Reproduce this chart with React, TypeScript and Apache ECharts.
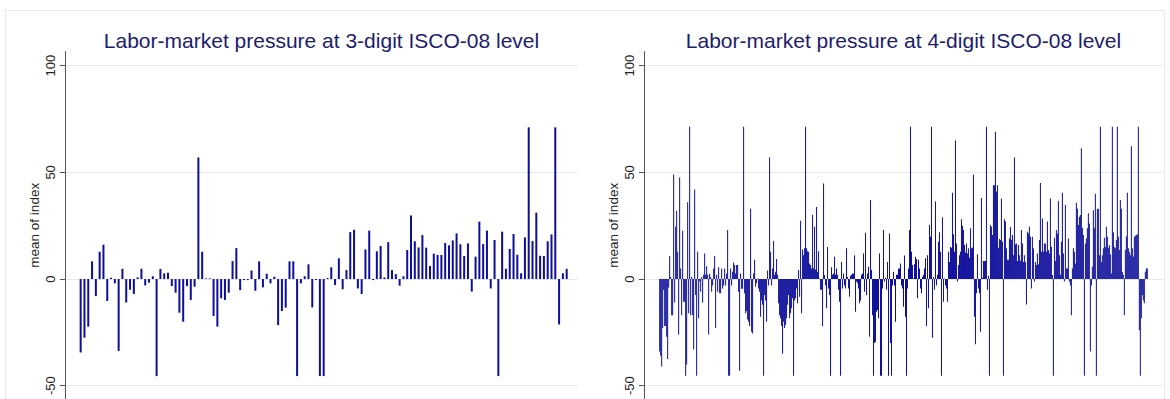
import React, { useEffect, useRef } from "react";
import * as echarts from "echarts";

// ---------- texts ----------
const TITLE_3 = "Labor-market pressure at 3-digit ISCO-08 level";
const TITLE_4 = "Labor-market pressure at 4-digit ISCO-08 level";
const Y_NAME = "mean of index";
const Y_TICKS = [-50, 0, 50, 100];

// ---------- 3-digit ISCO-08 (minor groups), mean of index ----------
const digit3A = [
  -34.4, -27.5, -22.3, 8.3, -8, 12.8, 16.1, -10.3, 0.6, -2, -33.7, 4.8, -11, -5, -7, 0.8,
  4.8, -3, -1.7, 1.3, -45.5, 4.7, 2.7, 3, -3.3, -6.4, -15.8, -20, -3.3, -9.8, -3.6, 57,
];
const digit3B = [
  12.8, 0.3, 0.3, -17.3, -22.3, -9, -9.8, -6.4, 8.4, 14.5, -5.2, -0.5, -0.5, 4, -5.5, 8.3,
  -3.9, 2.5, -2, 1.1, -21.6, -15, -13.4, 8.3, 8.3, -45.5, -2, 1.3, 6.9, -13.3, -0.5, -45.5,
  -45.5, 0.5, 5.5, -2.8, 9.7, -4.8, 4.2, 22, 23.1, -4.4, -7, 13.9, 22.7, -0.5, 13, 15.5,
  0.8, 17.3,
];
const digit3C = [
  4.2, 2.3, -3.1, 1.3, 13.6, 29.8, 17.7, 14.8, 20.6, 14.7, 6.1, 11.9, 11.3, 11.3, 16.9, 15.8,
  18.1, 21.4, 16.3, 10.8, 16.7, -5.9, 10.5, 26.9, 16.4, 22.7, -4.4, 18.3, -45.5, 22.2, 4.8,
  14.1, 21.1, 11.4, 2.7, 19.5, 71.1, 17.8, 31.1, 10.9, 10.8, 17.7, 20.9, 71.1, -21.3, 2.7, 4.8,
];

// ---------- 4-digit ISCO-08 (unit groups), mean of index ----------
const digit4A = [
  -34, -36, -41, -23, -5, -22, -22, -27, -37.5, -4,
  10.8, 1, -17, -17, 49, -11, 24.5, 32, 12.8, -26,
  47.6, 5, -17, 22.6, -10.6, -10.6, -45.3, -40, 36, -16,
  71.4, -17, 1, -17, -33, 42, -7.5, -45.3, 12.8, -18.4,
  -1, -6, 1, -11, 2, 12, 2, 6, 2, -26,
  2.5, 1, -6, -3, 5, 10.8, -23, 2, -6, 5.5,
  -6.7, -6.7, 5, -4.4, -3, 5, -3, 2.6, 23, -45.3,
  -45.3, 5, -3, 3.4, 7.8, 6.6, 2.6, 6.6, 6.6, -6,
  -43, 2.6, -4.5, -4.5, 71.4, -6.7, -16, -15, -19, -20,
  -22,
];
const digit4B = [
  33, -24.7, -25.5, 2.6, 9, -3.6, -2, 0.3, -4.4, -6,
  -17.7, -10, -12, -45.3, -7.5, -10, -20, 4, -3, 57,
  12.8, -3, 5, 17.8, 2, 3.4, 9.4, 2, -11.4, -17,
  -18.4, -22, -35, -20, -23, -21.5, -18.4, -12, -7.5, -18.4,
  -16, -13.7, -9, -45.3, -10, -9, -4.4, -11.4, 4.2, -8.3,
  27.3, -16, 13.9, 11.2, 14.4, 71.4, 14.4, 13, 12.8, 7.3,
  6.6, 5, 30, 5, 24.5, 4.5, 33.8, 3.4, 13, 0.2,
  -5, -5, -22, 44.8, 1.9, -3, -13.7, 15, -4.4, -7.5,
  -45.3, 5.5, 2, 2.6, 10.5, 2, 5, 2, -5, -10.6,
  -45.3, 8, -4.4, 2.6, -3, -4.4, 14.4,
];
const digit4C = [
  1, -4.4, -8.3, 1.6, 2, 2.6, 2.6, 11.2, -15.3, -1.2,
  -2, -4.4, -11.4, -10, 2, 2.6, 12, -6, 21.7, -7.5,
  2.6, 5.8, -27, 37, 4.2, -17, -45.3, -30, -29.4, -15.3,
  -14.5, -18.4, 12, -45.3, -45.3, -4.4, 23, -1.2, 0.6, -5,
  8, -45.3, 21.4, -30, -45.3, -3, 3.4, -3, -20, 2,
  2, 5, 5, 7.3, -3, -4.4, -13, 11, -17.7, -45.3,
  -4.4, 5, 23, 71.4, 12.8, 6.6, 0.3, 6.9, 10.5, 9.4,
  -9, 9, 5, -4.4, -6.7, 1, 2, 5, 9.7, -22,
  11.2, -13.7, 25.3, 19.8, 71.4, -27.5, 1, -5, 36.3, -3,
  2, 17.5, 21.9, 12.8, -45.3,
];
const digit4D = [
  29, -10.6, 0.3, -3, -4.4, -10.6, 12.8, 8, 15, 14.7,
  40.5, 21, 12.8, 65, 16.7, -1.2, 6.6, 11.2, 12.8, 28,
  25, 23, 15.9, 12.5, 16.7, 12, 14.4, 10, 23.8, 14.4,
  14.8, 49, -17.7, -30.6, -6.7, 11.6, -4.4, -6.7, -24.7, 38,
  0.6, 8.4, 8.4, 8.4, 71.4, -5, 1.6, -45.3, 25.3, 24.5,
  20.6, 44, 44, 69, 41, 44, 14.7, 18.8, 18.3, 37.8,
  17.5, -45.3, 28, 27, 14.4, 9, 9, 19, 24.4, 18.3,
  20.6, 11.2, 57, 16.3, 16.7, 8.4, 16, 11.2, 8.6, 23,
  16.7, 8, 11.2, 8, -11.9, 22.2, 21.4, 24.5, 19.8, -4.4,
  19.8, 14.4, -1.2, 8, 6.6,
];
const digit4E = [
  12, 6.9, 18.3, 45, 12.8, 28.4, 12.8, 16.7, 16.7, 12.8,
  27, 13.6, 12, 37.8, 15, 1.9, -45.3, 19.4, 8.4, 23,
  21.4, 36.6, 11.2, 2, 17.5, 40.5, 12, -1.2, 34.7, 5,
  5, 19, -1.2, -3, -17, 5, 14.4, 12.8, 7.3, 35.8,
  33, 25.3, 29.2, 30, 61.3, 24, 20.6, -45.3, 16.7, 19,
  23.8, 30.8, 26, -34, -3, 5.8, 32.3, 23.8, 40, -45.3,
  32.8, 33, 11.2, 71.4, 8, 11.2, 14.4, 19.4, 15, 24.5,
  19.8, 14.7, 16, 11.6, 2.6, 71.4, 21.9, 15, 14.4, 18.3,
  71.4, 19.8, 13.6, 37, 33, 3.4, 1.9, -17, 13.6, 20,
  40.5, 14.4, 12.8, 11.2, 62.3, 14.4, 10.5, 19.8, 20.3, 20.6,
  21, 71.4, -24, -45.3, -18.4, -7.5, -10, -11.4, 3.4, 5,
  5,
];

const digit3 = [...digit3A, ...digit3B, ...digit3C];
const digit4 = [...digit4A, ...digit4B, ...digit4C, ...digit4D, ...digit4E];

// ---------- styles ----------
const FONT = '"Liberation Sans", Arial, Helvetica, sans-serif';
const BAR = "#0e0e9a";
const AXIS = "#555555";
const GRIDLINE = "#e3eaf6";
const TITLE_COLOR = "#1c1c6c";

const Y_MIN = -56.23;
const Y_MAX = 106.66;

function yAxis(gridIndex: number) {
  return {
    type: "value",
    gridIndex,
    min: Y_MIN,
    max: Y_MAX,
    name: Y_NAME,
    nameLocation: "middle",
    nameRotate: 90,
    nameGap: 24,
    nameTextStyle: { fontFamily: FONT, fontSize: 13.5, color: "#222" },
    axisLine: { show: true, onZero: false, lineStyle: { color: AXIS, width: 1 } },
    axisTick: { show: true, length: 5, customValues: Y_TICKS, lineStyle: { color: AXIS, width: 1 } },
    axisLabel: {
      customValues: Y_TICKS,
      rotate: 90,
      margin: 8,
      fontFamily: FONT,
      fontSize: 13,
      color: "#222",
    },
    splitLine: { show: true, lineStyle: { color: GRIDLINE, width: 1 } },
  };
}

export default function App() {
  const ref = useRef<HTMLDivElement>(null);

  useEffect(() => {
    document.body.style.margin = "0";
    if (!ref.current) return;
    const chart = echarts.init(ref.current, undefined, { renderer: "svg" });

    const option = {
      animation: false,
      backgroundColor: "#ffffff",
      grid: [
        { left: 65, top: 51.5, width: 513, height: 347.5, outerBoundsMode: "none" },
        { left: 644, top: 51.5, width: 519, height: 347.5, outerBoundsMode: "none" },
      ],
      xAxis: [
        { type: "value", gridIndex: 0, min: -4.127, max: 130.98, show: false },
        { type: "value", gridIndex: 1, min: -15.68, max: 503.68, show: false },
      ],
      yAxis: [yAxis(0), yAxis(1)],
      series: [
        {
          type: "bar",
          xAxisIndex: 0,
          yAxisIndex: 0,
          barWidth: 2,
          silent: true,
          itemStyle: { color: BAR },
          data: digit3.map((v, i) => [i, v]),
        },
        {
          type: "bar",
          xAxisIndex: 1,
          yAxisIndex: 1,
          barWidth: 1,
          silent: true,
          itemStyle: { color: BAR },
          data: digit4.map((v, i) => [i, v]),
        },
      ],
      graphic: [
        {
          type: "rect",
          silent: true,
          z: -10,
          shape: { x: 5.5, y: 10.5, width: 1159, height: 400 },
          style: { fill: "none", stroke: "#e8e8e8", lineWidth: 1 },
        },
        {
          type: "text",
          silent: true,
          x: 321.5,
          y: 40,
          style: {
            text: TITLE_3,
            fontFamily: FONT,
            fontSize: 21,
            fill: TITLE_COLOR,
            align: "center",
            verticalAlign: "middle",
          },
        },
        {
          type: "text",
          silent: true,
          x: 903.5,
          y: 40,
          style: {
            text: TITLE_4,
            fontFamily: FONT,
            fontSize: 21,
            fill: TITLE_COLOR,
            align: "center",
            verticalAlign: "middle",
          },
        },
      ],
    };

    chart.setOption(option as any);
    return () => chart.dispose();
  }, []);

  return <div ref={ref} style={{ width: 1170, height: 399 }} />;
}
